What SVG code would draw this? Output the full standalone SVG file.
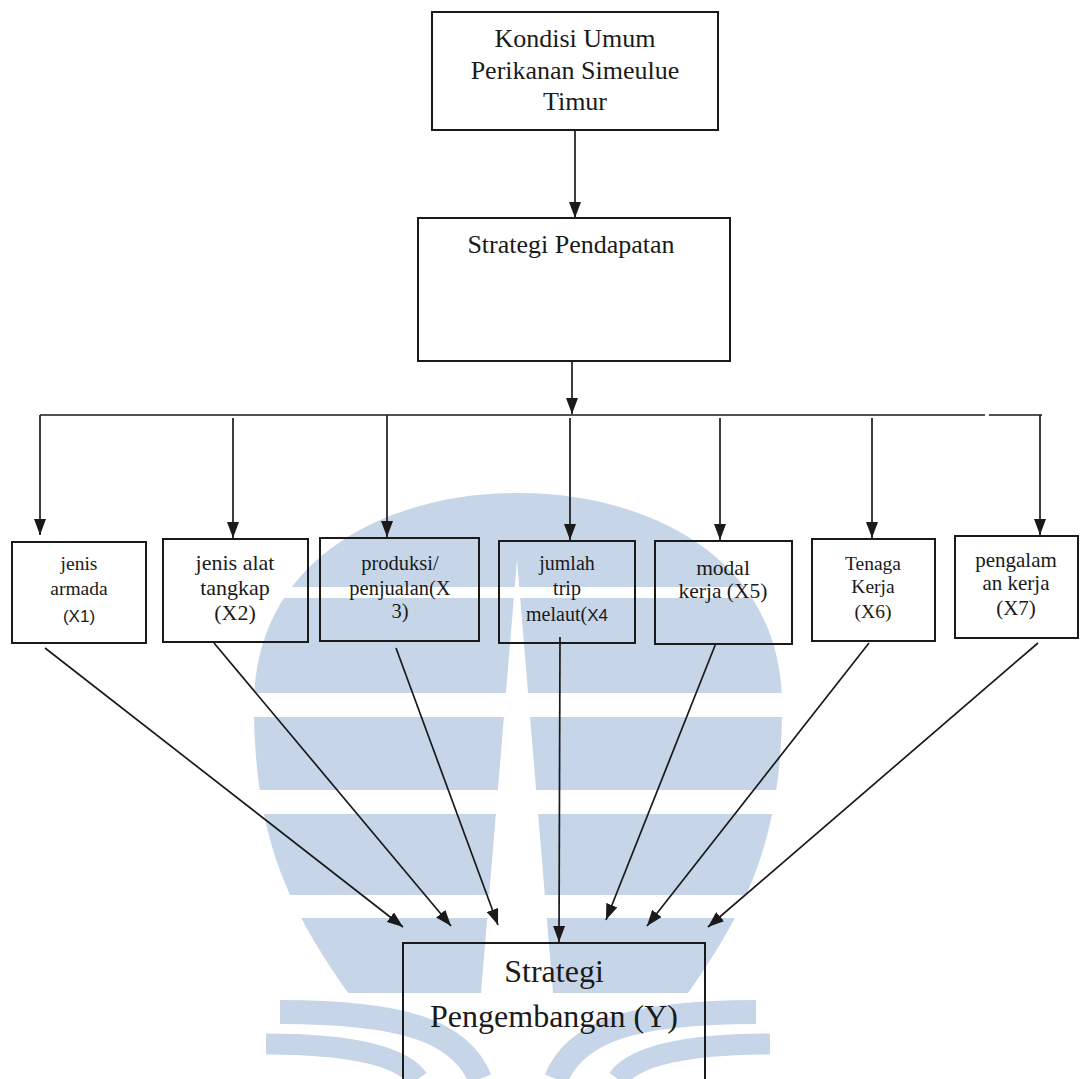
<svg xmlns="http://www.w3.org/2000/svg" width="1082" height="1079" viewBox="0 0 1082 1079">
<style>
.box{fill:none;stroke:#1a1a1a;stroke-width:2}
.t{font-family:"Liberation Serif","Times New Roman",serif;fill:#1a1a1a;text-anchor:middle}
.s{font-family:"Liberation Sans",Arial,sans-serif}
.c{stroke:#1a1a1a;stroke-width:1.7;fill:none}
.wm{fill:#c6d5e8}
</style>
<defs>
<marker id="ah" markerUnits="userSpaceOnUse" markerWidth="16" markerHeight="12" refX="16" refY="6" orient="auto">
<path d="M0,0 L16,6 L0,12 Z" fill="#1a1a1a"/>
</marker>
</defs>
<rect width="1082" height="1079" fill="#ffffff"/>
<g id="watermark">
<path class="wm" d="M518 493 C385 493 254 560 254 705 C254 840 290 910 348 993 L688 993 C746 910 782 840 782 705 C782 560 651 493 518 493 Z"/>
<g fill="#ffffff">
<rect x="240" y="587" width="560" height="11"/>
<rect x="240" y="693" width="560" height="24"/>
<rect x="240" y="790" width="560" height="24"/>
<rect x="240" y="895" width="560" height="23"/>
<polygon points="517,560 553,993 481,993"/>
</g>
<g fill="none" stroke="#c6d5e8">
<path d="M280 1012 C400 1012 460 1030 480 1079" stroke-width="24"/>
<path d="M266 1044 C350 1044 402 1056 418 1079" stroke-width="21"/>
<path d="M756 1012 C636 1012 576 1030 556 1079" stroke-width="24"/>
<path d="M770 1044 C686 1044 634 1056 618 1079" stroke-width="21"/>
</g>
</g>
<g id="connectors">
<line class="c" x1="575" y1="130" x2="575" y2="218" marker-end="url(#ah)"/>
<line class="c" x1="572" y1="361" x2="572" y2="414" marker-end="url(#ah)"/>
<line class="c" x1="40" y1="415" x2="985" y2="415"/>
<line class="c" x1="989" y1="415" x2="1042" y2="415"/>
<line class="c" x1="40" y1="415" x2="40" y2="535" marker-end="url(#ah)"/>
<line class="c" x1="233" y1="418" x2="233" y2="538" marker-end="url(#ah)"/>
<line class="c" x1="387" y1="415" x2="387" y2="537" marker-end="url(#ah)"/>
<line class="c" x1="570" y1="418" x2="570" y2="540" marker-end="url(#ah)"/>
<line class="c" x1="720" y1="418" x2="720" y2="540" marker-end="url(#ah)"/>
<line class="c" x1="872" y1="418" x2="872" y2="538" marker-end="url(#ah)"/>
<line class="c" x1="1040" y1="415" x2="1040" y2="535" marker-end="url(#ah)"/>
<line class="c" x1="45" y1="648" x2="403" y2="927" marker-end="url(#ah)"/>
<line class="c" x1="214" y1="643" x2="451" y2="926" marker-end="url(#ah)"/>
<line class="c" x1="396" y1="648" x2="498" y2="925" marker-end="url(#ah)"/>
<line class="c" x1="560" y1="637" x2="559" y2="942" marker-end="url(#ah)"/>
<line class="c" x1="716" y1="643" x2="606" y2="920" marker-end="url(#ah)"/>
<line class="c" x1="869" y1="643" x2="647" y2="926" marker-end="url(#ah)"/>
<line class="c" x1="1038" y1="643" x2="708" y2="927" marker-end="url(#ah)"/>
</g>
<g id="kondisi">
<rect class="box" x="432" y="12" width="286" height="118"/>
<text class="t" font-size="26" x="575" y="47">Kondisi Umum</text>
<text class="t" font-size="26" x="575" y="79">Perikanan Simeulue</text>
<text class="t" font-size="26" x="575" y="110">Timur</text>
</g>
<g id="pendapatan">
<rect class="box" x="418" y="218" width="312" height="143"/>
<text class="t" font-size="26" x="571" y="253">Strategi Pendapatan</text>
</g>
<g id="x1">
<rect class="box" x="12" y="542" width="134" height="101"/>
<text class="t" font-size="19.5" x="79" y="570">jenis</text>
<text class="t" font-size="19.5" x="79" y="595">armada</text>
<text class="t s" font-size="17" x="79" y="622">(X1)</text>
</g>
<g id="x2">
<rect class="box" x="163" y="539" width="145" height="103"/>
<text class="t" font-size="22" x="235" y="570">jenis alat</text>
<text class="t" font-size="22" x="235" y="595">tangkap</text>
<text class="t" font-size="22" x="235" y="620">(X2)</text>
</g>
<g id="x3">
<rect class="box" x="320" y="538" width="159" height="103"/>
<text class="t" font-size="20.5" x="400" y="570">produksi/</text>
<text class="t" font-size="20.5" x="400" y="595">penjualan(X</text>
<text class="t" font-size="20.5" x="400" y="618">3)</text>
</g>
<g id="x4">
<rect class="box" x="499" y="541" width="136" height="102"/>
<text class="t" font-size="20" x="567" y="570">jumlah</text>
<text class="t" font-size="20" x="567" y="595">trip</text>
<text class="t" font-size="20" x="567" y="621">melaut(<tspan class="s" font-size="17">X4</tspan></text>
</g>
<g id="x5">
<rect class="box" x="655" y="541" width="137" height="103"/>
<text class="t" font-size="21.5" x="723" y="575">modal</text>
<text class="t" font-size="21.5" x="723" y="598">kerja (X5)</text>
</g>
<g id="x6">
<rect class="box" x="812" y="539" width="123" height="102"/>
<text class="t" font-size="19.5" x="873" y="570">Tenaga</text>
<text class="t" font-size="19.5" x="873" y="593">Kerja</text>
<text class="t" font-size="19.5" x="873" y="618">(X6)</text>
</g>
<g id="x7">
<rect class="box" x="955" y="536" width="123" height="102"/>
<text class="t" font-size="21" x="1016" y="567">pengalam</text>
<text class="t" font-size="21" x="1016" y="590">an kerja</text>
<text class="t" font-size="21" x="1016" y="615">(X7)</text>
</g>
<g id="y">
<rect class="box" x="403" y="943" width="302" height="150"/>
<text class="t" font-size="32" x="554" y="982">Strategi</text>
<text class="t" font-size="32" x="554" y="1027">Pengembangan (Y)</text>
</g>
</svg>
